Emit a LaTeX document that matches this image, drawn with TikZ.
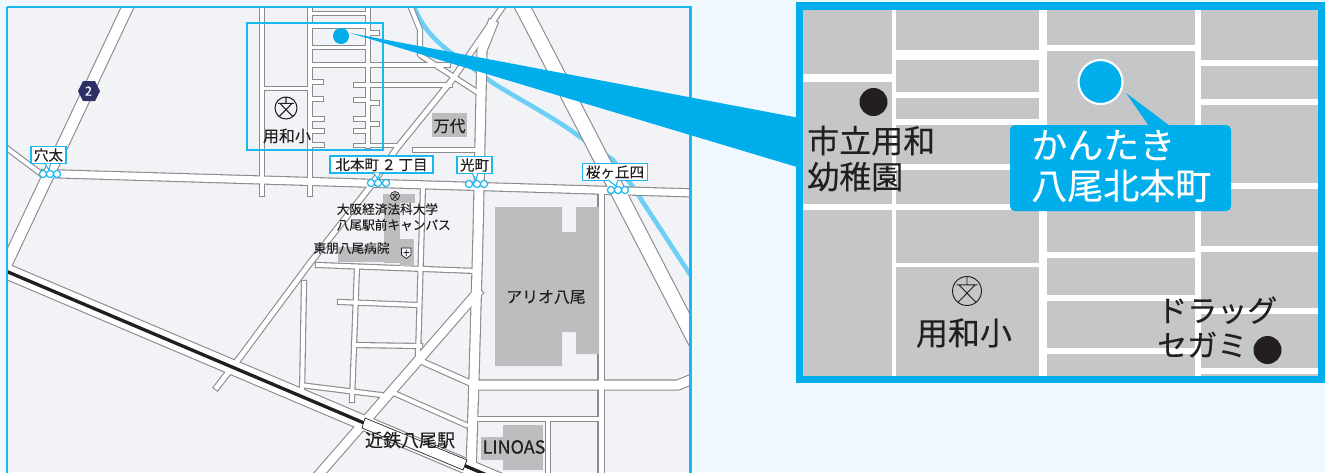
\documentclass[tikz,border=0pt]{standalone}
\usepackage{fontspec}
\setmainfont[FakeBold=0.25]{Noto Sans CJK JP}
\definecolor{cy}{HTML}{00AEEB}
\definecolor{cyb}{HTML}{1BB8F0}
\definecolor{pagebg}{HTML}{EFF8FE}
\definecolor{mapbg}{HTML}{F1F3F6}
\definecolor{edgegray}{HTML}{8A8B8D}
\definecolor{bldg}{HTML}{BCBDBF}
\definecolor{blk}{HTML}{C5C6C8}
\definecolor{river}{HTML}{6DCFF6}
\definecolor{navy}{HTML}{2E2F65}
\definecolor{ink}{HTML}{231F20}
\tikzset{
 txt/.style={inner sep=0pt,text=ink},
 tA/.style={txt,font=\fontsize{9.5pt}{11.8pt}\selectfont},
 tB/.style={txt,font=\fontsize{10.9pt}{13pt}\selectfont},
 tC/.style={txt,font=\fontsize{12pt}{14pt}\selectfont},
 tD/.style={txt,font=\fontsize{13.5pt}{16pt}\selectfont},
 tL/.style={txt,font=\fontsize{24pt}{27pt}\selectfont,align=left},
 tM/.style={txt,font=\fontsize{22.5pt}{26pt}\selectfont,align=left},
 sigbox/.style={draw=cyb,fill=white,line width=1.1pt,inner sep=0pt,text=ink,minimum height=13pt},
 sigdot/.style={draw=cyb,fill=white,line width=0.9pt},
 ptr/.style={draw=cyb,fill=white,line width=0.8pt},
}
\newcommand{\schoolicon}[4]{%
 \begin{scope}[shift={(#1,#2)},scale=#3]
 \draw[ink,line width=#4] (0,0) circle (1);
 \draw[ink,line width=#4] (-.72,-.42)--(.72,-.42) (0,-1)--(0,-.42) (-.55,-.42)--(.62,.78) (.55,-.42)--(-.62,.78);
 \end{scope}}
\newcommand{\rd}[2]{}
\newcommand{\allroads}{%
 \rd{10.5}{(131,0)--(5,267)}
 \rd{7}{(45,173.5)--(695,193)}
 \rd{4}{(0,143)--(44,176)}
 \rd{3.2}{(262,0)--(262,194)}
 \rd{3.2}{(310,0)--(310,194)}
 \rd{3.2}{(368,0)--(368,146)}
 \rd{3.2}{(262,88.5)--(310,88.5)}
 \rd{3.2}{(310,13.5)--(368,13.5)}
 \rd{3.2}{(310,26)--(368,26)}
 \rd{3.2}{(310,47.5)--(368,47.5)}
 \rd{3.2}{(310,65)--(448,65)}
 \rd{3.2}{(356,85)--(450,85)}
 \rd{3.2}{(310,82)--(321,82)}
 \rd{3.2}{(310,99)--(321,99)}
 \rd{3.2}{(310,119)--(322,119)}
 \rd{3.2}{(310,131)--(322,131)}
 \rd{3.2}{(310,145)--(322,145)}
 \rd{3.2}{(356,100)--(368,100)}
 \rd{3.2}{(356,119)--(368,119)}
 \rd{3.2}{(356,131)--(368,131)}
 \rd{3.2}{(356,145.5)--(397,145.5)}
 \rd{3.2}{(368,33)--(377,33)}
 \rd{3.2}{(368,103)--(377,103)}
 \rd{3.2}{(368,124)--(377,124)}
 \rd{3.2}{(415,150)--(476,150)}
 \rd{4}{(408,0)--(420,30)--(420,55)--(480,94)}
 \rd{4.8}{(508,-1)--(452,80)--(397,148)--(370,187)--(310,263)--(238,360)--(217,387)}
 \rd{9}{(492,25)--(482,50)--(478,235)--(474,378)--(471,472)}
 \rd{14}{(519,0)--(700,350)}
 \rd{8.5}{(477,293)--(321,472)--(310,485)}
 \rd{5}{(423,362)--(468,382)}
 \rd{4}{(396,394)--(466,425)}
 \rd{4}{(318,265)--(477,271)}
 \rd{4}{(423,186)--(418,356)}
 \rd{4}{(357,267)--(352,400)}
 \rd{4}{(340,302)--(418,305)}
 \rd{4}{(354,345)--(420,346)}
 \rd{4}{(304,283)--(302,395)}
 \rd{4}{(304,385.5)--(381,395)}
 \rd{5}{(601,190)--(601,480)}
 \rd{9}{(474,385)--(678,385)--(695,378)}
 \rd{4}{(472,419)--(601,419)}
 \rd{4}{(548,419)--(548,480)}
 \rd{14}{(-5,266.5)--(500,480.6)}
}
\begin{document}
\begin{tikzpicture}[x=0.75pt,y=-0.75pt]
\useasboundingbox (0,0) rectangle (1325,472);
\fill[pagebg] (0,0) rectangle (1325,472);
% ---------- map ----------
\begin{scope}
\clip (6.8,6.8) rectangle (690.5,472);
\fill[mapbg] (6.8,6.8) rectangle (690.5,472);
\draw[river,line width=3.4pt] (412,0) .. controls (418,20) and (428,35) .. (450,52) -- (493,83) .. controls (520,100) and (555,118) .. (580,137) -- (613,160) -- (633,187) -- (695,282);
\renewcommand{\rd}[2]{\draw[edgegray,line cap=rect,line join=round,line width={(#1+2.2)*0.75pt}] #2;}
\allroads
\renewcommand{\rd}[2]{\draw[white,line cap=rect,line join=round,line width={(#1)*0.75pt}] #2;}
\allroads
\draw[ink,line width=2.5pt] (-5,266.5)--(500,480.6);
% buildings
\fill[bldg] (432,113) rectangle (467,137);
\fill[bldg] (495,207) -- (562,207) -- (562,232) -- (576,232) -- (576,207) -- (599,207) -- (599,354) -- (576,354) -- (576,332) -- (562,332) -- (562,366) -- (495,366) -- cycle;
\fill[bldg] (503,425) rectangle (543,470);
\fill[bldg] (481,437) rectangle (503,460);
\fill[bldg] (383,194) rectangle (415,203);
\fill[bldg] (384,203) rectangle (400,263);
\fill[bldg] (338,247) rectangle (390,262);
\fill[bldg] (400,239) rectangle (414,266);
% station
\draw[ink,fill=white,line width=0.5pt] (365,418) -- (467,460) -- (463,470) -- (362,428) -- cycle;
\end{scope}
\node[tC] (manyo) at (449.5,126) {万代};
\node[txt,font=\fontsize{11.9pt}{14pt}\selectfont] (ario) at (546,297) {アリオ八尾};
\node[tD] (linoas) at (514,447) {LINOAS};
\node[tD] (kintetsu) at (410,440) {近鉄八尾駅};
\node[tC] (yowasmall) at (287,136) {用和小};
\node[tA,align=left,anchor=west] (univ) at (336.5,217) {大阪経済法科大学\\八尾駅前キャンパス};
\node[tA] (toho) at (351.5,248) {東朋八尾病院};
\schoolicon{286}{108}{11}{0.8pt}
\schoolicon{395}{196}{4.5}{0.5pt}
\draw[ink,fill=mapbg,line width=0.5pt] (401.5,248)--(411,248)--(411,255)--(406.3,258.5)--(401.5,255)--cycle (406.3,249.5)--(406.3,256) (403.5,252.5)--(409,252.5);
% route hexagon
\fill[navy] (78,91)--(83,81)--(95,81)--(100,91)--(95,101)--(83,101)--cycle;
\node[txt,text=white,font=\fontsize{9.5pt}{10pt}\selectfont] (route) at (88.5,91) {2};
% signal labels
\foreach \x/\y in {43/174,50/174,57/174,371/183,378/183,386/183,469/184,477/184,484/184,611/190,618/190,625/190}
  \draw[sigdot] (\x,\y) circle (3.6);
\node[sigbox,minimum width=26pt] (anao) at (48.5,155) {\fontsize{10.9pt}{13pt}\selectfont 穴太};
\draw[ptr] (45,163.5)--(49,170)--(50.5,163.5);
\node[sigbox,minimum width=77pt] (kita) at (381.5,164.5) {\fontsize{10.9pt}{13pt}\selectfont 北本町\,２\,丁目};
\draw[ptr] (373,172.5)--(378,179)--(380,172.5);
\node[sigbox,minimum width=26pt] (hikari) at (474.5,165) {\fontsize{10.9pt}{13pt}\selectfont 光町};
\draw[ptr] (472,173)--(476,180)--(478,173);
\node[sigbox,minimum width=49pt] (sakura) at (615,172) {\fontsize{10.9pt}{13pt}\selectfont 桜ヶ丘四};
\draw[ptr] (608,180)--(616,186)--(618,180);
% highlight and frame
\draw[cyb,line width=1.4pt] (247,22.7) rectangle (383,150);
\draw[cyb,line width=1.9pt] (6.8,6.8) -- (690.5,6.8) -- (690.5,480) (6.8,480) -- (6.8,6.8);
\fill[cy] (341,36) circle (8);
\fill[cy] (350,33) -- (802,118.5) -- (802,168.5) -- cycle;
% ---------- inset ----------
\fill[blk] (800,6) rectangle (1321,380);
\foreach \a/\b/\c/\d/\w in {
 894/6/894/380/4.5, 1043/6/1043/380/8.5, 1198/6/1198/380/6,
 800/78/894/78/8.7,
 894/55/1043/55/10, 894/95/1043/95/5.7, 894/122/1043/122/6, 894/167/1043/167/6,
 800/207/1043/207/6, 894/265/1043/265/4.5,
 1043/47.5/1198/47.5/6, 1043/255/1198/255/6, 1043/298/1198/298/6, 1043/351/1198/351/6,
 1198/63/1321/63/6, 1198/102/1321/102/6, 1198/186/1321/186/6, 1198/249/1321/249/5.5, 1198/311/1321/311/6, 1198/371/1321/371/6}
 \draw[white,line width={\w*0.75pt}] (\a,\b)--(\c,\d);
\draw[cy,line width=5.6pt] (799.3,6) rectangle (1321.5,379.5);
\draw[white,fill=cy,line width=1.6pt] (1100.5,82) circle (22);
\fill[cy] (1126,93) -- (1149,126) -- (1170,126) -- cycle;
\fill[cy,rounded corners=3.5pt] (1010,125) rectangle (1231,211);
\node[txt,text=white,font=\fontsize{27pt}{30.5pt}\selectfont,align=left,anchor=north west] (kantaki) at (1031,129.5) {かんたき\\八尾北本町};
\fill[ink] (873.5,102) circle (14);
\fill[ink] (1267.5,350) circle (14);
\node[tL,anchor=west] (youchien) at (807,158.5) {市立用和\\幼稚園};
\node[tM,anchor=west] (drug) at (1157,327) {ドラッグ\\セガミ};
\schoolicon{967}{291}{14.5}{0.7pt}
\node[tL] (yowabig) at (964,333) {用和小};
\end{tikzpicture}
\end{document}
